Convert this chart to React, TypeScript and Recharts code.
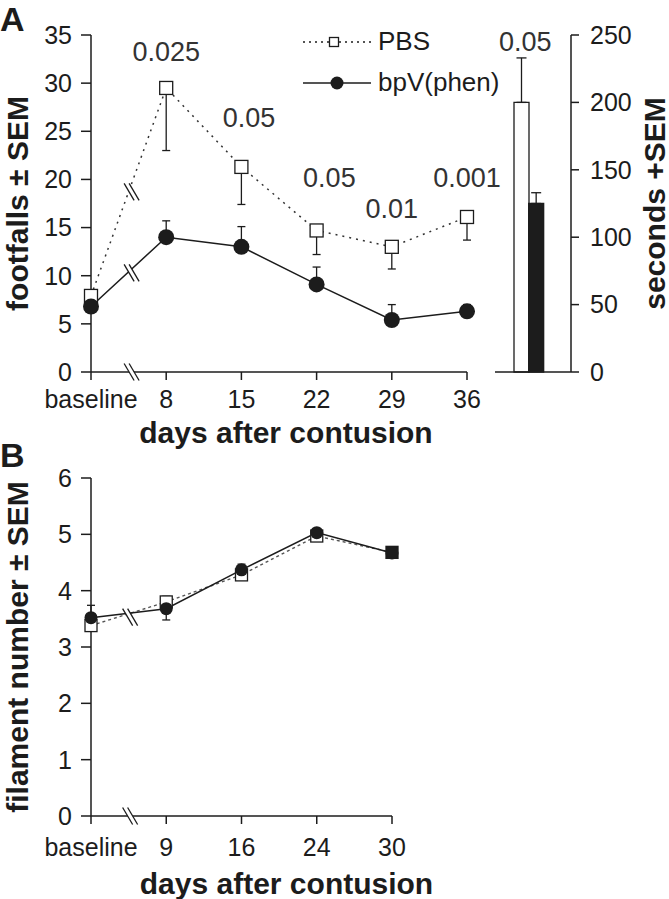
import React from "react";
import {
  ComposedChart,
  Line,
  Bar,
  Cell,
  Scatter,
  XAxis,
  YAxis,
  ErrorBar,
  Label,
} from "recharts";

// ─── Data: panel A (footfalls) ───────────────────────────────────────────────

const daysA = ["baseline", "8", "15", "22", "29", "36"];
const pbsA = [7.9, 29.5, 21.3, 14.7, 13.0, 16.1];
const pbsErrA = [0, 6.5, 3.9, 2.5, 2.3, 2.4]; // drawn downward only
const bpvA = [6.8, 14.0, 13.0, 9.1, 5.4, 6.3];
const bpvErrA = [0, 1.7, 2.1, 1.8, 1.6, 0.7]; // drawn upward only
const yTicksA = [0, 5, 10, 15, 20, 25, 30, 35];

// p-values written over the time points
const pTextA = ["0.025", "0.05", "0.05", "0.01", "0.001"];
const pPosA = [1, 2.1, 3.17, 4, 5];
const pLevelA = [33.2, 26.4, 20.1, 16.9, 20.1];

// axis-break marks ("//")
const breakPosA = [0.54, 0.54, 0.54];
const breakLevelA = [18.7, 10.3, 0];

// ─── Data: panel A inset (seconds) ───────────────────────────────────────────

const barGroups = ["PBS", "bpV(phen)"];
const barSeconds = [200, 125];
const barErr = [33, 8];
const barTicks = [0, 50, 100, 150, 200, 250];
const barPText = ["0.05"];
const barPLevel = [244.8];

// ─── Data: panel B (filament number) ─────────────────────────────────────────

const daysB = ["baseline", "9", "16", "24", "30"];
const pbsB = [3.38, 3.8, 4.28, 4.97, 4.68];
const pbsErrB = [0.1, 0.1, 0.08, 0.06, 0.05];
const bpvB = [3.52, 3.68, 4.37, 5.03, 4.67];
const bpvErrB = [0.22, 0.2, 0.1, 0.06, 0.05];
const yTicksB = [0, 1, 2, 3, 4, 5, 6];
const breakPosB = [0.52, 0.52];
const breakLevelB = [3.53, 0];

// ─── Styling ─────────────────────────────────────────────────────────────────

const FONT = '"Liberation Sans", Arial, Helvetica, sans-serif';
const INK = "#1c1c1c";
const tickStyle = { fill: INK, fontSize: 25, fontFamily: FONT };
const axisLine = { stroke: INK, strokeWidth: 1.5 };

// ─── Shapes ──────────────────────────────────────────────────────────────────

function SquareDot({ cx, cy, size = 13, solid = false }: any) {
  if (cx == null || cy == null) return null;
  return (
    <rect
      x={cx - size / 2}
      y={cy - size / 2}
      width={size}
      height={size}
      fill={solid ? INK : "#fff"}
      stroke={INK}
      strokeWidth={1.3}
    />
  );
}

function CircleDot({ cx, cy, r = 7.5 }: any) {
  if (cx == null || cy == null) return null;
  return <circle cx={cx} cy={cy} r={r} fill={INK} />;
}

function BreakMark({ cx, cy }: any) {
  if (cx == null || cy == null) return null;
  return (
    <g>
      <polygon
        points={`${cx - 7.5},${cy - 8.5} ${cx - 2.5},${cy - 8.5} ${cx + 7.5},${cy + 8.5} ${cx + 2.5},${cy + 8.5}`}
        fill="#fff"
      />
      <line x1={cx - 7.5} y1={cy - 8.5} x2={cx + 2.5} y2={cy + 8.5} stroke={INK} strokeWidth={1.3} />
      <line x1={cx - 2.5} y1={cy - 8.5} x2={cx + 7.5} y2={cy + 8.5} stroke={INK} strokeWidth={1.3} />
    </g>
  );
}

function PText({ cx, cy, payload, dx = 0 }: any) {
  if (cx == null || cy == null) return null;
  return (
    <text
      x={cx + dx}
      y={cy}
      textAnchor="middle"
      dominantBaseline="central"
      fill="#333"
      fontFamily={FONT}
      fontSize={27}
    >
      {payload.text}
    </text>
  );
}

function AxisTitle({ viewBox, text, dx = 0, dy = 0, rotate = false }: any) {
  if (!viewBox) return null;
  const cx = viewBox.x + (rotate ? 0 : viewBox.width / 2) + dx;
  const cy = viewBox.y + (rotate ? viewBox.height / 2 : 0) + dy;
  return (
    <text
      x={cx}
      y={cy}
      textAnchor="middle"
      dominantBaseline="central"
      transform={rotate ? `rotate(-90 ${cx} ${cy})` : undefined}
      fill={INK}
      fontFamily={FONT}
      fontSize={30}
      fontWeight="bold"
    >
      {text}
    </text>
  );
}

// ─── Legend (panel A) ────────────────────────────────────────────────────────

function SeriesLegend() {
  const rows = [
    { label: "PBS", dashed: true },
    { label: "bpV(phen)", dashed: false },
  ];
  return (
    <div style={{ position: "absolute", left: 303, top: 21, fontFamily: FONT, fontSize: 26, color: INK }}>
      {rows.map(({ label, dashed }) => (
        <div key={label} style={{ display: "flex", alignItems: "center", height: 41 }}>
          <svg width={68} height={20} style={{ marginRight: 7 }}>
            <line
              x1={0}
              y1={10}
              x2={68}
              y2={10}
              stroke={INK}
              strokeWidth={1.5}
              strokeDasharray={dashed ? "2 4" : undefined}
            />
            {dashed ? <SquareDot cx={31} cy={10} size={9} /> : <CircleDot cx={34} cy={10} r={6.5} />}
          </svg>
          <span>{label}</span>
        </div>
      ))}
    </div>
  );
}

// ─── Panel letter ────────────────────────────────────────────────────────────

function PanelLetter({ letter, top }: { letter: string; top: number }) {
  return (
    <div
      style={{
        position: "absolute",
        left: 0,
        top,
        zIndex: 2,
        fontFamily: FONT,
        fontWeight: "bold",
        fontSize: 34,
        lineHeight: "38px",
        color: INK,
      }}
    >
      {letter}
    </div>
  );
}

// ─── Main ────────────────────────────────────────────────────────────────────

export default function App() {
  const rowsA = daysA.map((d, i) => ({
    x: i,
    pbs: pbsA[i],
    pbsErr: [pbsErrA[i], 0],
    bpv: bpvA[i],
    bpvErr: [0, bpvErrA[i]],
  }));
  const pLabelsA = pTextA.map((t, i) => ({ x: pPosA[i], y: pLevelA[i], text: t }));
  const breaksA = breakPosA.map((p, i) => ({ x: p, y: breakLevelA[i] }));

  const rowsBar = barGroups.map((g, i) => ({ g, s: barSeconds[i], err: [0, barErr[i]] }));
  const barLabels = barPText.map((t, i) => ({ g: barGroups[i], s: barPLevel[i], text: t }));
  const barFills = ["#fff", INK];

  const rowsB = daysB.map((d, i) => ({
    x: i,
    pbs: pbsB[i],
    pbsErr: pbsErrB[i],
    bpv: bpvB[i],
    bpvErr: bpvErrB[i],
  }));
  const breaksB = breakPosB.map((p, i) => ({ x: p, y: breakLevelB[i] }));

  return (
    <div style={{ position: "absolute", left: 0, top: 0, width: 669, height: 899, background: "#fff" }}>
      <PanelLetter letter="A" top={0} />
      <PanelLetter letter="B" top={436} />

      {/* Panel A: footfalls over time */}
      <div style={{ position: "absolute", left: 0, top: 0 }}>
        <ComposedChart
          width={510}
          height={460}
          data={rowsA}
          margin={{ top: 35, right: 43, bottom: 20, left: 31 }}
        >
          <XAxis
            dataKey="x"
            type="number"
            domain={[0, 5]}
            ticks={[0, 1, 2, 3, 4, 5]}
            interval={0}
            tickFormatter={(v) => daysA[v] ?? ""}
            tick={tickStyle}
            tickSize={8}
            tickMargin={10}
            tickLine={axisLine}
            axisLine={axisLine}
            height={68}
          >
            <Label content={(p: any) => <AxisTitle viewBox={p.viewBox} text="days after contusion" dx={7} dy={60} />} />
          </XAxis>
          <YAxis
            type="number"
            domain={[0, 35]}
            ticks={yTicksA}
            interval={0}
            tick={tickStyle}
            tickSize={10}
            tickMargin={9}
            tickLine={axisLine}
            axisLine={axisLine}
            width={60}
          >
            <Label content={(p: any) => <AxisTitle viewBox={p.viewBox} text="footfalls ± SEM" dx={-14} rotate />} />
          </YAxis>

          <Line
            dataKey="pbs"
            type="linear"
            stroke="#333"
            strokeWidth={1.5}
            strokeDasharray="2 5"
            dot={(p: any) => <SquareDot key={p.index} cx={p.cx} cy={p.cy} />}
            isAnimationActive={false}
          >
            <ErrorBar dataKey="pbsErr" direction="y" width={4} stroke={INK} strokeWidth={1.3} />
          </Line>
          <Line
            dataKey="bpv"
            type="linear"
            stroke={INK}
            strokeWidth={1.5}
            dot={(p: any) => <CircleDot key={p.index} cx={p.cx} cy={p.cy} r={8} />}
            isAnimationActive={false}
          >
            <ErrorBar dataKey="bpvErr" direction="y" width={4} stroke={INK} strokeWidth={1.3} />
          </Line>
          <Scatter data={breaksA} dataKey="y" shape={(p: any) => <BreakMark {...p} />} isAnimationActive={false} />
          <Scatter data={pLabelsA} dataKey="y" shape={(p: any) => <PText {...p} />} isAnimationActive={false} />
        </ComposedChart>
      </div>

      <SeriesLegend />

      {/* Panel A inset: seconds */}
      <div style={{ position: "absolute", left: 470, top: 0 }}>
        <ComposedChart
          width={199}
          height={440}
          data={rowsBar}
          margin={{ top: 35, right: 0, bottom: 0, left: 25 }}
          barCategoryGap={0}
        >
          <XAxis
            dataKey="g"
            type="category"
            tick={false}
            tickLine={false}
            axisLine={axisLine}
            padding={{ left: 19, right: 13 }}
            height={68}
          />
          <YAxis
            orientation="right"
            type="number"
            domain={[0, 250]}
            ticks={barTicks}
            interval={0}
            tick={tickStyle}
            tickSize={8}
            tickMargin={11}
            tickLine={axisLine}
            axisLine={axisLine}
            width={98}
          >
            <Label content={(p: any) => <AxisTitle viewBox={p.viewBox} text="seconds +SEM" dx={83} rotate />} />
          </YAxis>
          <Bar dataKey="s" stroke={INK} strokeWidth={1.3} isAnimationActive={false}>
            {rowsBar.map((r, i) => (
              <Cell key={r.g} fill={barFills[i]} />
            ))}
            <ErrorBar dataKey="err" direction="y" width={5} stroke={INK} strokeWidth={1.3} />
          </Bar>
          <Scatter data={barLabels} dataKey="s" shape={(p: any) => <PText {...p} dx={4} />} isAnimationActive={false} />
        </ComposedChart>
      </div>

      {/* Panel B: filament number */}
      <div style={{ position: "absolute", left: 0, top: 440 }}>
        <ComposedChart
          width={470}
          height={459}
          data={rowsB}
          margin={{ top: 38, right: 78, bottom: 0, left: 31 }}
        >
          <XAxis
            dataKey="x"
            type="number"
            domain={[0, 4]}
            ticks={[0, 1, 2, 3, 4]}
            interval={0}
            tickFormatter={(v) => daysB[v] ?? ""}
            tick={tickStyle}
            tickSize={8}
            tickMargin={14}
            tickLine={axisLine}
            axisLine={axisLine}
            height={83}
          >
            <Label content={(p: any) => <AxisTitle viewBox={p.viewBox} text="days after contusion" dx={7 + 38} dy={67} />} />
          </XAxis>
          <YAxis
            type="number"
            domain={[0, 6]}
            ticks={yTicksB}
            interval={0}
            tick={tickStyle}
            tickSize={10}
            tickMargin={9}
            tickLine={axisLine}
            axisLine={axisLine}
            width={60}
          >
            <Label content={(p: any) => <AxisTitle viewBox={p.viewBox} text="filament number ± SEM" dx={-14} rotate />} />
          </YAxis>

          <Line
            dataKey="pbs"
            type="linear"
            stroke="#555"
            strokeWidth={1.4}
            strokeDasharray="3 3"
            dot={(p: any) => (
              <SquareDot key={p.index} cx={p.cx} cy={p.cy} size={12} solid={p.index === daysB.length - 1} />
            )}
            isAnimationActive={false}
          >
            <ErrorBar dataKey="pbsErr" direction="y" width={4} stroke={INK} strokeWidth={1.3} />
          </Line>
          <Line
            dataKey="bpv"
            type="linear"
            stroke={INK}
            strokeWidth={1.5}
            dot={(p: any) => <CircleDot key={p.index} cx={p.cx} cy={p.cy} r={6.5} />}
            isAnimationActive={false}
          >
            <ErrorBar dataKey="bpvErr" direction="y" width={4} stroke={INK} strokeWidth={1.3} />
          </Line>
          <Scatter data={breaksB} dataKey="y" shape={(p: any) => <BreakMark {...p} />} isAnimationActive={false} />
        </ComposedChart>
      </div>
    </div>
  );
}
